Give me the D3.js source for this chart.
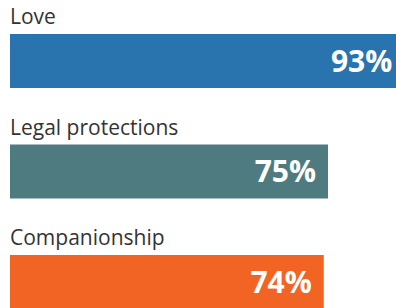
<!DOCTYPE html>
<html>
<head>
<meta charset="utf-8">
<script src="https://cdn.jsdelivr.net/npm/d3@7"></script>
<style>
  html, body { margin: 0; padding: 0; background: #fff; overflow: hidden; }
  svg { display: block; }
</style>
</head>
<body>
<div id="chart"></div>
<script>
const categories = ["Love", "Legal protections", "Companionship"];
const values = [93, 75, 74];
const colorList = ["#2974ae", "#4e7b80", "#f26423"];

const dims = { width: 396, height: 308 };
const rowStep = 110.5;

const svg = d3
  .select("#chart")
  .append("svg")
  .attr("width", dims.width)
  .attr("height", dims.height);

const x = d3.scaleLinear().domain([0, 100]).range([10, 434]);
const y = d3
  .scaleBand()
  .domain(categories)
  .range([0, rowStep * categories.length])
  .padding(0);
const color = d3.scaleOrdinal().domain(categories).range(colorList);

const data = categories.map((c, i) => ({ cat: c, val: values[i] }));

const rows = svg
  .selectAll("g.row")
  .data(data)
  .enter()
  .append("g")
  .attr("class", "row")
  .attr("transform", (d) => `translate(0, ${y(d.cat)})`);

// category label above each bar
rows
  .append("text")
  .attr("x", 10)
  .attr("y", 24)
  .attr("fill", "#333")
  .style("font-family", "'Open Sans', sans-serif")
  .style("font-size", "21px")
  .text((d) => d.cat);

rows
  .append("rect")
  .attr("x", x(0))
  .attr("y", 34)
  .attr("height", 54)
  .attr("width", (d) => x(d.val) - x(0))
  .attr("fill", (d) => color(d.cat));

// value inside the bar end
rows
  .append("text")
  .attr("x", (d) => x(d.val) - 12)
  .attr("y", 61)
  .attr("dy", "0.36em")
  .attr("text-anchor", "end")
  .attr("fill", "#fff")
  .style("font-family", "'Open Sans', sans-serif")
  .style("font-weight", "700")
  .style("font-size", "30px")
  .text((d) => `${d.val}%`);
</script>
</body>
</html>
